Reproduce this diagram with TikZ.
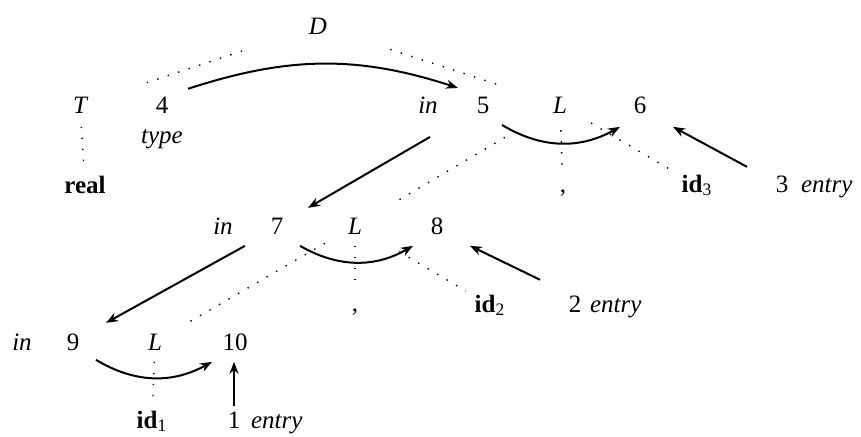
\documentclass[tikz,border=0pt]{standalone}
\usepackage{fontspec}
\setmainfont{Liberation Serif}
\usetikzlibrary{arrows.meta, positioning}
\newcommand{\tokid}[1]{\textbf{id}\textsubscript{#1}}

\begin{document}
\begin{tikzpicture}[
  x=0.5pt, y=-0.5pt,
  every node/.style={font=\fontsize{12.5}{15}\selectfont, anchor=base, inner sep=1pt},
  sym/.style={font=\fontsize{12.5}{15}\selectfont\itshape},
  tok/.style={font=\fontsize{12.5}{15}\selectfont\bfseries},
  dep/.style={-{Stealth[length=6pt, width=4.5pt]}, line width=1pt},
  tree/.style={line width=0.7pt, dash pattern=on 0.7pt off 4.8pt}
]
\useasboundingbox (0,0) rectangle (861,436);
\node[sym] (D) at (318,34) {D};
\node[sym] (T) at (80,113) {T};
\node (n4) at (162,113) {4};
\node[sym] (type) at (162,143) {type};
\node[tok] (real) at (85,193) {real};
\node[sym] (in5) at (428,113) {in};
\node (n5) at (483,113) {5};
\node[sym] (L5) at (560,113) {L};
\node (n6) at (640,113) {6};
\node (comma3) at (563,192) {,};
\node (id3) at (697,192) {\tokid{3}};
\node (n3) at (782,192) {3};
\node[sym, base right=4pt of n3] (entry3) {entry};
\node[sym] (in7) at (223,234) {in};
\node (n7) at (277,234) {7};
\node[sym] (L7) at (355,234) {L};
\node (n8) at (437,234) {8};
\node (comma2) at (355,311) {,};
\node (id2) at (490,312) {\tokid{2}};
\node (n2) at (575,312) {2};
\node[sym, base right=2pt of n2] (entry2) {entry};
\node[sym] (in9) at (22,350) {in};
\node (n9) at (73,350) {9};
\node[sym] (L9) at (155,350) {L};
\node (n10) at (235,350) {10};
\node (id1) at (152,428) {\tokid{1}};
\node (n1) at (234,428) {1};
\node[sym, base right=3pt of n1] (entry1) {entry};
\draw[tree, shorten <=40pt, shorten >=31pt] (D.center) -- (T.center);
\draw[tree, shorten <=38pt, shorten >=30pt] (D.center) -- (L5.center);
\draw[tree, shorten <=11pt, shorten >=9pt] (T.center) -- (real.center);
\draw[tree, shorten <=12.7pt, shorten >=10.5pt] (L5.center) -- (comma3.center);
\draw[tree, shorten <=18pt, shorten >=15.7pt] (L5.center) -- (id3.center);
\draw[tree, shorten <=32pt, shorten >=23pt] (L5.center) -- (L7.center);
\draw[tree, shorten <=10pt, shorten >=12.5pt] (L7.center) -- (comma2.center);
\draw[tree, shorten <=25.6pt, shorten >=14pt] (L7.center) -- (id2.center);
\draw[tree, shorten <=17.4pt, shorten >=18.5pt] (L7.center) -- (L9.center);
\draw[tree, shorten <=10pt, shorten >=9.5pt] (L9.center) -- (id1.center);
\draw[dep] ([shift={(26,-16)}]n4.center) to[out=18, in=162] ([shift={(-25,-17)}]n5.center);
\draw[dep] ([shift={(-53,32)}]n5.center) -- ([shift={(31,-18)}]n7.center);
\draw[dep] ([shift={(-32,20)}]n7.center) -- ([shift={(33,-19)}]n9.center);
\draw[dep] ([shift={(19,20)}]n5.center) to[bend right=30] ([shift={(-20,22)}]n6.center);
\draw[dep] ([shift={(23,20)}]n7.center) to[bend right=30] ([shift={(-24,20)}]n8.center);
\draw[dep] ([shift={(23,18)}]n9.center) to[bend right=30] ([shift={(-23,20)}]n10.center);
\draw[dep] ([shift={(-35,-17)}]n3.center) -- ([shift={(33,22)}]n6.center);
\draw[dep] ([shift={(-35,-24)}]n2.center) -- ([shift={(33,20)}]n8.center);
\draw[dep] ([shift={(0,-14)}]n1.center) -- ([shift={(-1,20)}]n10.center);
\end{tikzpicture}
\end{document}
